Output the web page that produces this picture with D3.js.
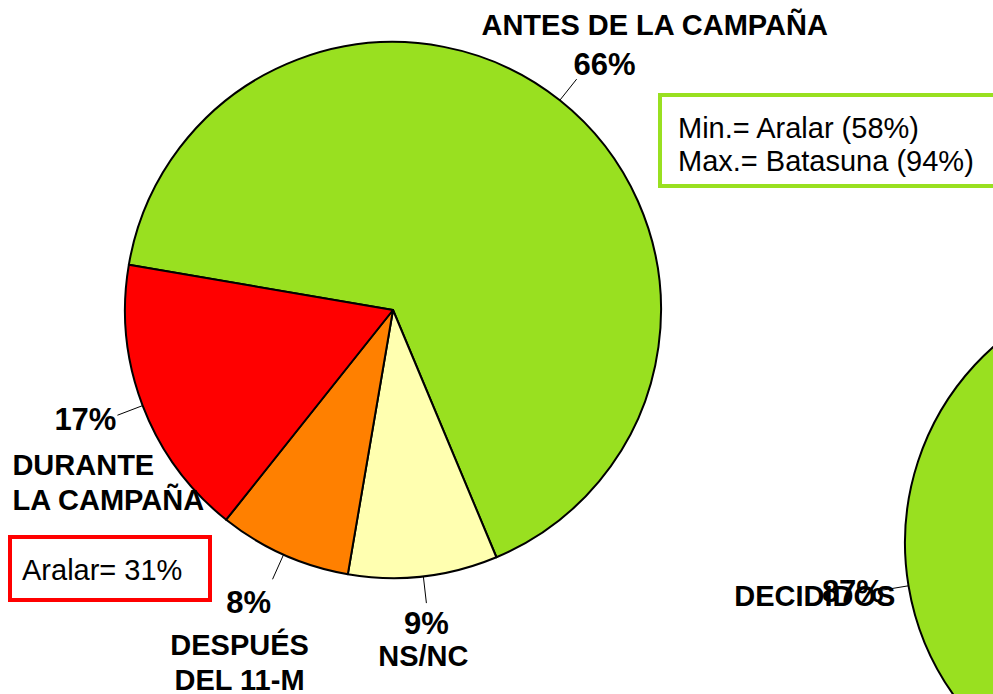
<!DOCTYPE html>
<html>
<head>
<meta charset="utf-8">
<script src="https://cdn.jsdelivr.net/npm/d3@7"></script>
<style>
    body { margin: 0; background: #fff; }
    svg { display: block; font-family: "Liberation Sans", Arial, sans-serif; }
    .name { font-weight: bold; font-size: 29px; }
    .pct { font-weight: bold; font-size: 31px; }
    .note { font-size: 29px; }
</style>
</head>
<body>
<div id="chart-area"></div>
<script>
const mainNames = [["ANTES DE LA CAMPAÑA"], ["NS/NC"], ["DESPUÉS", "DEL 11-M"], ["DURANTE", "LA CAMPAÑA"]];
const mainValues = [66, 9, 8, 17];
const mainColors = ["#99e020", "#ffffb0", "#ff8000", "#ff0000"];

const secondNames = ["DECIDIDOS", ""];
const secondValues = [87, 13];
const secondColors = ["#99e020", "#ffffb0"];

const greenNote = ["Min.= Aralar (58%)", "Max.= Batasuna (94%)"];
const redNote = ["Aralar= 31%"];

const chartSize = { width: 993, height: 694 };

// where each label sits, relative to the end of its leader line
const mainLayout = [
    { pct: [28, -4, "middle"], name: [78, -44, "middle"] },
    { pct: [0, 31, "middle"], name: [-3, 63, "middle"] },
    { pct: [-24, 34, "middle"], name: [-33, 76, "middle"] },
    { pct: [-1, 15, "end"], name: [-105, 60, "start"] },
];

const drawPie = function (svg, cx, cy, r, startDeg, values, colors, names, layout, leadOut) {
    const g = svg.append("g").attr("transform", `translate(${cx}, ${cy})`);
    const pie = d3.pie().sort(null)
        .startAngle(startDeg * Math.PI / 180)
        .endAngle(startDeg * Math.PI / 180 + 2 * Math.PI);
    const arcs = pie(values);
    const arc = d3.arc().innerRadius(0).outerRadius(r);
    const onEdge = d3.arc().innerRadius(r).outerRadius(r);
    const outside = d3.arc().innerRadius(r + leadOut).outerRadius(r + leadOut);

    g.selectAll("path.slice")
        .data(arcs)
        .join("path")
        .attr("class", "slice")
        .attr("d", arc)
        .attr("fill", (d, i) => colors[i])
        .attr("stroke", "#000")
        .attr("stroke-width", 2)
        .attr("stroke-linejoin", "round");

    arcs.forEach((d, i) => {
        const lay = layout[i];
        if (!lay) return;
        const a = onEdge.centroid(d);
        const b = outside.centroid(d);
        g.append("line")
            .attr("x1", a[0]).attr("y1", a[1])
            .attr("x2", b[0]).attr("y2", b[1])
            .attr("stroke", "#000")
            .attr("stroke-width", 1);

        g.append("text")
            .attr("class", "pct")
            .attr("x", b[0] + lay.pct[0])
            .attr("y", b[1] + lay.pct[1])
            .attr("text-anchor", lay.pct[2])
            .text(values[i] + "%");

        const t = g.append("text")
            .attr("class", "name")
            .attr("text-anchor", lay.name[2]);
        [].concat(names[i]).forEach((line, k) => {
            t.append("tspan")
                .attr("x", b[0] + lay.name[0])
                .attr("y", b[1] + lay.name[1] + k * 35)
                .text(line);
        });
    });
};

const drawNote = function (svg, x, y, w, h, pad, color, lines) {
    svg.append("rect")
        .attr("x", x).attr("y", y)
        .attr("width", w).attr("height", h)
        .attr("fill", "#fff")
        .attr("stroke", color)
        .attr("stroke-width", 4);
    lines.forEach((line, k) => {
        svg.append("text")
            .attr("class", "note")
            .attr("x", x + pad)
            .attr("y", y + 43 + k * 33)
            .text(line);
    });
};

const main = () => {
    const svg = d3.select("#chart-area")
        .append("svg")
        .attr("width", chartSize.width)
        .attr("height", chartSize.height);

    drawPie(svg, 1167, 543, 262, 104, secondValues, secondColors, secondNames,
        [{ pct: [-28, 12, "middle"], name: [-66, 16, "middle"] }], 28);

    drawPie(svg, 393, 310, 268, -80.3, mainValues, mainColors, mainNames, mainLayout, 27);

    drawNote(svg, 660, 95, 360, 91, 18, "#99e020", greenNote);
    drawNote(svg, 10, 537, 200, 63, 12, "#ff0000", redNote);
};

window.onload = main;
</script>
</body>
</html>
